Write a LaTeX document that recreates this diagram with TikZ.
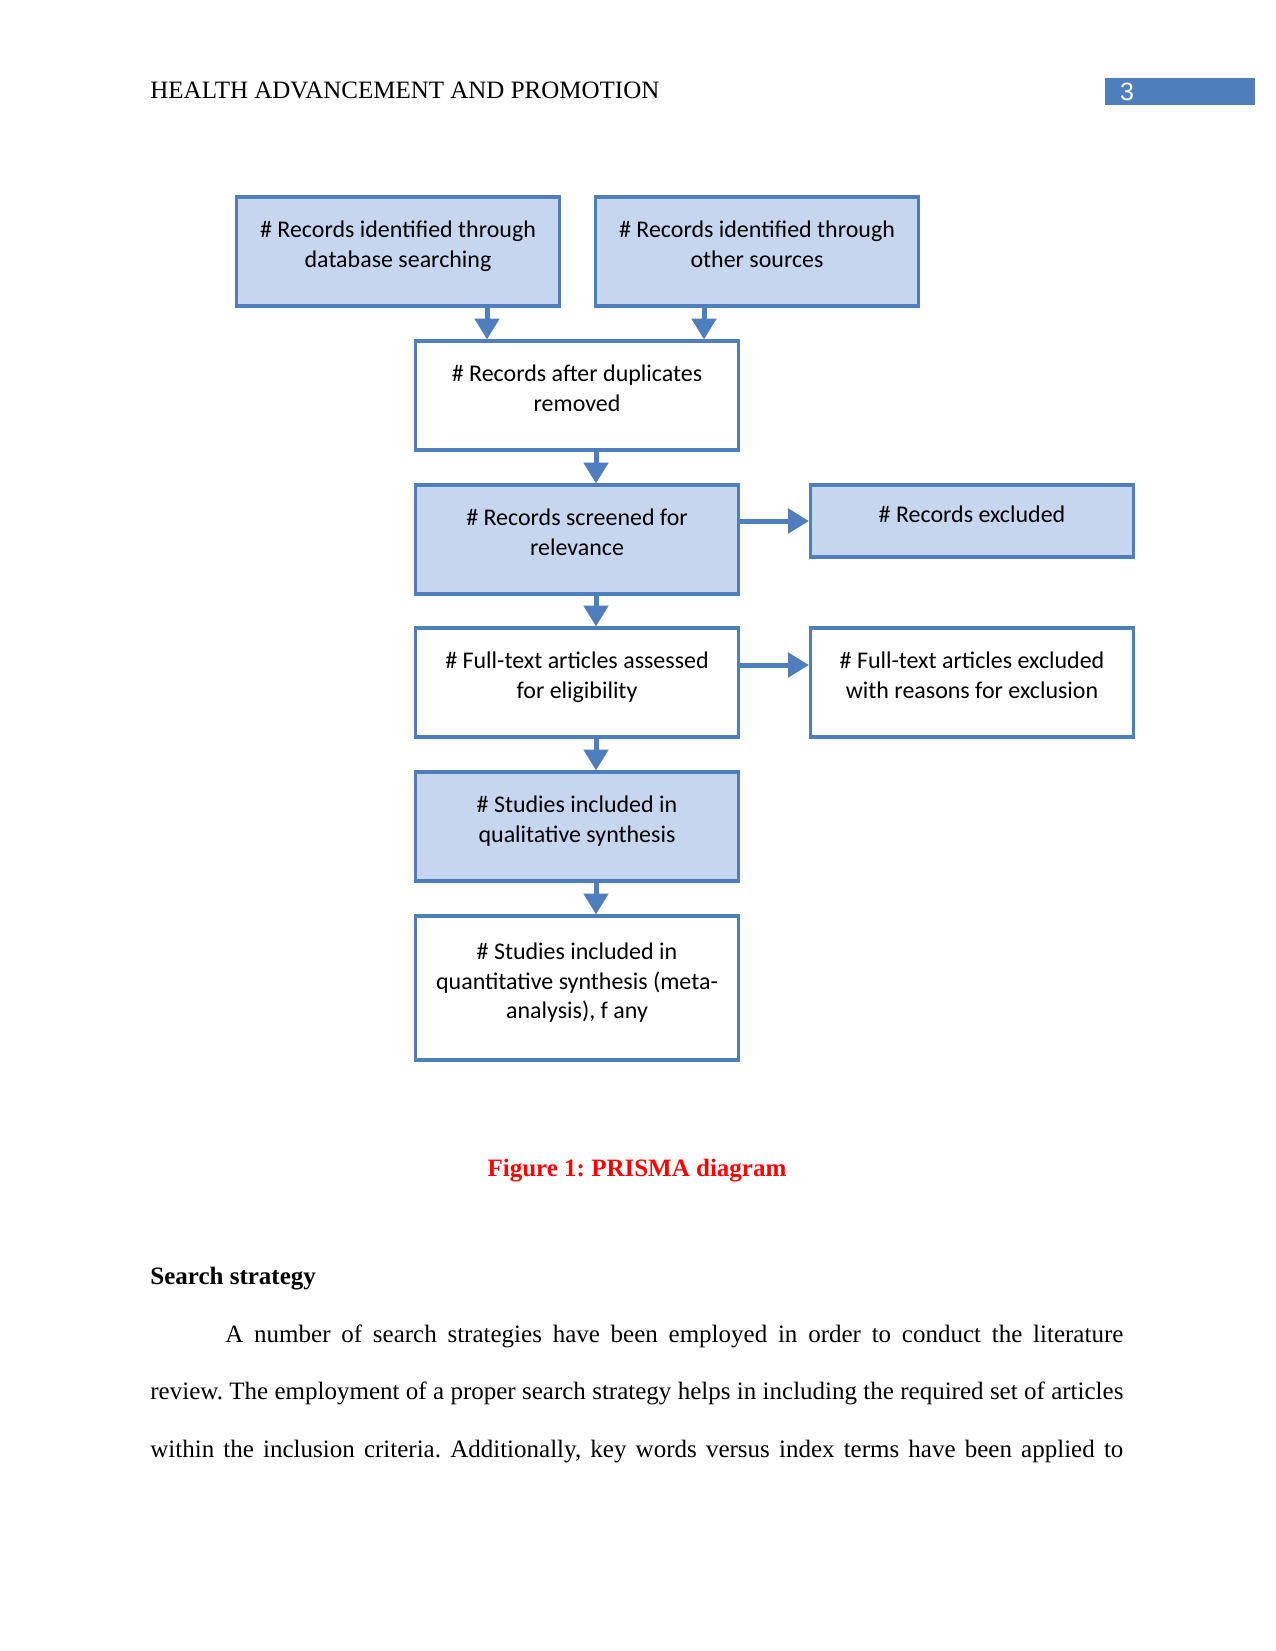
\documentclass[tikz,border=0pt]{standalone}
\usepackage{fontspec}
\setmainfont{Liberation Serif}
\newfontfamily\boxfont{Carlito}
\newfontfamily\pagefont{Liberation Sans}
\definecolor{prblue}{HTML}{4F7EBD}
\definecolor{prfill}{HTML}{C6D6EF}
\definecolor{prred}{HTML}{FF0000}
\usetikzlibrary{calc, positioning, arrows.meta}
\newcommand{\boxlift}{\rule[-7pt]{0pt}{0pt}}
\frenchspacing

\begin{document}
\begin{tikzpicture}[
  x=0.48pt, y=-0.48pt,
  stage/.style={draw=prblue, line width=1.5pt, fill=white,
                minimum width=155pt, minimum height=52.3pt, align=center,
                font=\boxfont\fontsize{11.5}{14.2}\selectfont, inner sep=2pt,
                execute at end node=\boxlift},
  shaded/.style={stage, fill=prfill},
  flow/.style={prblue, line width=2.4pt, -{Triangle[length=10pt, width=11.5pt]}},
  plain/.style={inner sep=0pt, font=\fontsize{12}{14}\selectfont},
]
\useasboundingbox (0,0) rectangle (1275,1651);
\fill[white] (0,0) rectangle (1275,1651);

\node[plain, anchor=west] (head) at (150,90.5) {HEALTH ADVANCEMENT AND PROMOTION};
\node[fill=prblue, minimum width=72pt, minimum height=13pt, inner sep=0pt] (pgbox) at (1180,91.5) {};
\node[plain, text=white, font=\pagefont\fontsize{12}{14}\selectfont] (pgnum) at (1127,91.5) {3};

\node[shaded] (dbase) at (398,251.5) {\# Records identified through\\database searching};
\node[shaded] (other) at (757,251.5) {\# Records identified through\\other sources};
\node[stage] (dedup) at (577,395.5) {\# Records after duplicates\\removed};
\node[shaded] (screen) at (577,539.5) {\# Records screened for\\relevance};
\node[shaded, minimum height=34.6pt] (excl) at (972,521) {\# Records excluded};
\node[stage] (full) at (577,682.5) {\# Full-text articles assessed\\for eligibility};
\node[stage] (fullex) at (972,682.5) {\# Full-text articles excluded\\with reasons for exclusion};
\node[shaded] (qual) at (577,826.5) {\# Studies included in\\qualitative synthesis};
\node[stage, minimum height=69.1pt] (quant) at (577,988) {\# Studies included in\\quantitative synthesis (meta-\\analysis), f any};

\draw[flow] ($(dbase.south)+(89,0)$) -- ($(dbase.south |- dedup.north)+(89,0)$);
\draw[flow] ($(other.south)+(-53,0)$) -- ($(other.south |- dedup.north)+(-53,0)$);
\draw[flow] ($(dedup.south)+(19,0)$) -- ($(screen.north)+(19,0)$);
\draw[flow] ($(screen.south)+(19,0)$) -- ($(full.north)+(19,0)$);
\draw[flow] ($(full.south)+(19,0)$) -- ($(qual.north)+(19,0)$);
\draw[flow] ($(qual.south)+(19,0)$) -- ($(quant.north)+(19,0)$);
\draw[flow] (screen.east |- excl.west) -- (excl.west);
\draw[flow] ($(full.east)+(0,-17.5)$) -- ($(fullex.west)+(0,-17.5)$);

\node[plain, anchor=base, text=prred, font=\bfseries\fontsize{12}{14}\selectfont] (caption) at (637,1176) {Figure 1: PRISMA diagram};
\node[plain, anchor=base west, font=\bfseries\fontsize{12}{14}\selectfont] (section) at (150,1284) {Search strategy};
\node[plain, anchor=north west, text width=467pt, align=justify, font=\fontsize{12}{27.6}\selectfont] (para) at (150,1324) {%
  \noindent\hspace*{36pt}A number of search strategies have been employed in order to conduct the literature\linebreak
  review. The employment of a proper search strategy helps in including the required set of articles\linebreak
  \makebox[\linewidth][s]{within the inclusion criteria. Additionally, key words versus index terms have been applied to}};
\end{tikzpicture}
\end{document}
